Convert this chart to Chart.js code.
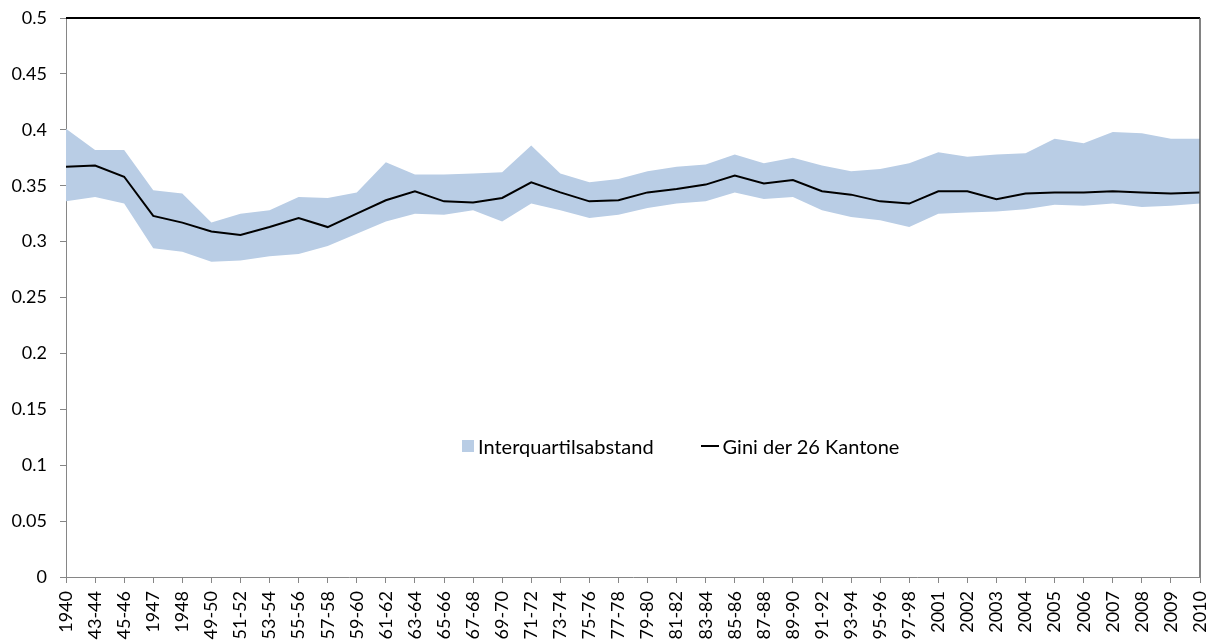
<!DOCTYPE html>
<html>
<head>
<meta charset="utf-8">
<script src="https://cdn.jsdelivr.net/npm/chart.js@4.4.0/dist/chart.umd.min.js"></script>
<style>
  body { margin: 0; background: #fff; }
  #wrap { position: relative; width: 1214px; height: 640px; }
  #legend {
    position: absolute; left: 462px; top: 434px; height: 24px;
    display: flex; align-items: center;
    font-family: Lato, "Open Sans", sans-serif; font-size: 20px; color: #000;
  }
  #legend .box { width: 12px; height: 12px; background: #b9cde5; margin-right: 4px; }
  #legend .line { width: 18px; height: 2px; background: #000; margin-left: 47px; margin-right: 4px; }
</style>
</head>
<body>
<div id="wrap">
  <canvas id="myChart" width="1214" height="640"></canvas>
  <div id="legend">
    <span class="box"></span><span>Interquartilsabstand</span>
    <span class="line"></span><span>Gini der 26 Kantone</span>
  </div>
</div>
<script>
// Perioden (x-Achse)
const periods = ['1940', '43-44', '45-46', '1947', '1948', '49-50', '51-52', '53-54', '55-56', '57-58',
  '59-60', '61-62', '63-64', '65-66', '67-68', '69-70', '71-72', '73-74', '75-76', '77-78',
  '79-80', '81-82', '83-84', '85-86', '87-88', '89-90', '91-92', '93-94', '95-96', '97-98',
  '2001', '2002', '2003', '2004', '2005', '2006', '2007', '2008', '2009', '2010'];

// unteres Quartil
const lowerQuartile = [0.336, 0.340, 0.334, 0.294, 0.291, 0.282, 0.283, 0.287, 0.289, 0.296,
  0.307, 0.318, 0.325, 0.324, 0.328, 0.318, 0.334, 0.328, 0.321, 0.324,
  0.330, 0.334, 0.336, 0.344, 0.338, 0.340, 0.328, 0.322, 0.319, 0.313,
  0.325, 0.326, 0.327, 0.329, 0.333, 0.332, 0.334, 0.331, 0.332, 0.334];

// oberes Quartil
const upperQuartile = [0.401, 0.382, 0.382, 0.346, 0.343, 0.317, 0.325, 0.328, 0.340, 0.339,
  0.344, 0.371, 0.360, 0.360, 0.361, 0.362, 0.386, 0.361, 0.353, 0.356,
  0.363, 0.367, 0.369, 0.378, 0.370, 0.375, 0.368, 0.363, 0.365, 0.370,
  0.380, 0.376, 0.378, 0.379, 0.392, 0.388, 0.398, 0.397, 0.392, 0.392];

// Gini der 26 Kantone
const giniValues = [0.367, 0.368, 0.358, 0.323, 0.317, 0.309, 0.306, 0.313, 0.321, 0.313,
  0.325, 0.337, 0.345, 0.336, 0.335, 0.339, 0.353, 0.344, 0.336, 0.337,
  0.344, 0.347, 0.351, 0.359, 0.352, 0.355, 0.345, 0.342, 0.336, 0.334,
  0.345, 0.345, 0.338, 0.343, 0.344, 0.344, 0.345, 0.344, 0.343, 0.344];

const yTicks = [0, 0.05, 0.1, 0.15, 0.2, 0.25, 0.3, 0.35, 0.4, 0.45, 0.5];

const tickFont = { family: 'Lato, "Open Sans", sans-serif', size: 18 };

// Rahmen oben und rechts wie im Original
const framePlugin = {
  id: 'frame',
  afterDatasetsDraw(chart) {
    const { ctx, chartArea } = chart;
    ctx.save();
    ctx.strokeStyle = '#000';
    ctx.lineWidth = 2;
    ctx.beginPath();
    ctx.moveTo(chartArea.left, chartArea.top);
    ctx.lineTo(chartArea.right, chartArea.top);
    ctx.stroke();
    ctx.strokeStyle = '#595959';
    ctx.lineWidth = 1.5;
    ctx.beginPath();
    ctx.moveTo(chartArea.right, chartArea.top);
    ctx.lineTo(chartArea.right, chartArea.bottom);
    ctx.stroke();
    ctx.restore();
  }
};

const ctx = document.getElementById('myChart').getContext('2d');
const chart = new Chart(ctx, {
  type: 'line',
  data: {
    labels: periods,
    datasets: [
      {
        label: 'lower',
        data: lowerQuartile,
        borderWidth: 0,
        pointRadius: 0,
        fill: false,
        order: 2
      },
      {
        label: 'Interquartilsabstand',
        data: upperQuartile,
        borderWidth: 0,
        pointRadius: 0,
        backgroundColor: '#b9cde5',
        fill: '-1',
        order: 1
      },
      {
        label: 'Gini der 26 Kantone',
        data: giniValues,
        borderColor: '#000',
        borderWidth: 2,
        pointRadius: 0,
        tension: 0,
        fill: false,
        order: 0
      }
    ]
  },
  options: {
    responsive: false,
    animation: false,
    layout: { padding: { top: 18, right: 14, left: 0, bottom: 0 } },
    plugins: {
      legend: { display: false },
      tooltip: { enabled: false }
    },
    scales: {
      x: {
        offset: false,
        grid: { drawOnChartArea: false, tickLength: 6, color: '#868686' },
        border: { color: '#868686', width: 1 },
        ticks: {
          autoSkip: false,
          maxRotation: 90,
          minRotation: 90,
          padding: 8,
          color: '#000',
          font: tickFont
        },
        afterFit(scale) {
          scale.height = 63;
          scale.paddingLeft = 0;
          scale.paddingRight = 0;
        }
      },
      y: {
        min: 0,
        max: 0.5,
        grid: { drawOnChartArea: false, tickLength: 6, color: '#868686' },
        border: { color: '#868686', width: 1 },
        afterBuildTicks(scale) { scale.ticks = yTicks.map(v => ({ value: v })); },
        ticks: {
          padding: 13,
          color: '#000',
          font: tickFont,
          callback: v => String(Number(v.toFixed(2)))
        },
        afterFit(scale) {
          scale.width = 66;
          scale.paddingTop = 0;
          scale.paddingBottom = 0;
        }
      }
    }
  },
  plugins: [framePlugin]
});
</script>
</body>
</html>
